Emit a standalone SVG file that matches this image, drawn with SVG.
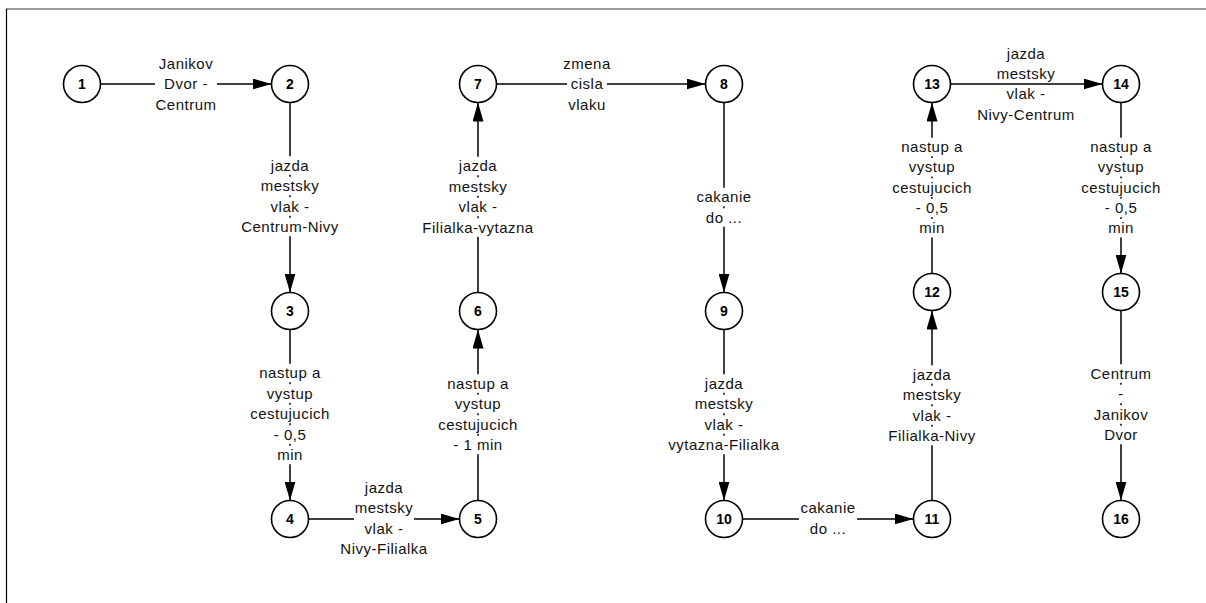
<svg xmlns="http://www.w3.org/2000/svg" width="1206" height="603" viewBox="0 0 1206 603">
<style>
.frame-top{stroke:#777;stroke-width:1.5;fill:none}
.frame-left{stroke:#000;stroke-width:1.2;fill:none}
.node circle{fill:#fff;stroke:#000;stroke-width:1.6}
.node text{font-family:"Liberation Sans",Arial,sans-serif;font-size:14px;font-weight:bold;text-anchor:middle;fill:#000}
.edge{stroke:#000;stroke-width:1.5;fill:none;marker-end:url(#arrow)}
.lbl text{font-family:"Liberation Sans",Arial,sans-serif;font-size:15px;letter-spacing:0.5px;text-anchor:middle;fill:#111}
.lbl rect{fill:#fff;stroke:none}
</style>
<defs>
<marker id="arrow" markerUnits="userSpaceOnUse" markerWidth="19" markerHeight="11" refX="19" refY="5.5" orient="auto">
<path d="M0,0 L19,5.5 L0,11 z" fill="#000"/>
</marker>
</defs>
<rect x="0" y="0" width="1206" height="603" fill="#fff"/>
<line class="frame-top" x1="6" y1="9" x2="1206" y2="9"/>
<line class="frame-left" x1="6.5" y1="9" x2="6.5" y2="603"/>

<g id="connectors">
<line class="edge" x1="100.5" y1="84" x2="271.5" y2="84"/>
<line class="edge" x1="290" y1="102.5" x2="290" y2="292.5"/>
<line class="edge" x1="290" y1="329.5" x2="290" y2="500.5"/>
<line class="edge" x1="308.5" y1="519" x2="459.5" y2="519"/>
<line class="edge" x1="478" y1="500.5" x2="478" y2="329.5"/>
<line class="edge" x1="478" y1="292.5" x2="478" y2="102.5"/>
<line class="edge" x1="496.5" y1="84" x2="705.5" y2="84"/>
<line class="edge" x1="724" y1="102.5" x2="724" y2="292.5"/>
<line class="edge" x1="724" y1="329.5" x2="724" y2="500.5"/>
<line class="edge" x1="742.5" y1="519" x2="913.5" y2="519"/>
<line class="edge" x1="932" y1="500.5" x2="932" y2="310.5"/>
<line class="edge" x1="932" y1="273.5" x2="932" y2="102.5"/>
<line class="edge" x1="950.5" y1="84" x2="1102.5" y2="84"/>
<line class="edge" x1="1121" y1="102.5" x2="1121" y2="273.5"/>
<line class="edge" x1="1121" y1="310.5" x2="1121" y2="500.5"/>

<g class="lbl" id="label-1-2">
<rect x="155" y="74.75" width="62" height="18.5"/>
<text x="186" y="68.5">Janikov</text>
<text x="186" y="89">Dvor -</text>
<text x="186" y="109.5">Centrum</text>
</g>
<g class="lbl" id="label-2-3">
<rect x="267" y="156.25" width="46" height="18.5"/>
<rect x="257" y="176.75" width="66" height="18.5"/>
<rect x="267" y="197.25" width="46" height="18.5"/>
<rect x="238" y="217.75" width="104" height="18.5"/>
<text x="290" y="170.5">jazda</text>
<text x="290" y="191">mestsky</text>
<text x="290" y="211.5">vlak -</text>
<text x="290" y="232">Centrum-Nivy</text>
</g>
<g class="lbl" id="label-3-4">
<rect x="255" y="363.75" width="70" height="18.5"/>
<rect x="263" y="384.25" width="54" height="18.5"/>
<rect x="247" y="404.75" width="86" height="18.5"/>
<rect x="270" y="425.25" width="40" height="18.5"/>
<rect x="274" y="445.75" width="32" height="18.5"/>
<text x="290" y="378">nastup a</text>
<text x="290" y="398.5">vystup</text>
<text x="290" y="419">cestujucich</text>
<text x="290" y="439.5">- 0,5</text>
<text x="290" y="460">min</text>
</g>
<g class="lbl" id="label-4-5">
<rect x="354" y="498.75" width="60" height="39"/>
<text x="384" y="492.5">jazda</text>
<text x="384" y="513">mestsky</text>
<text x="384" y="533.5">vlak -</text>
<text x="384" y="554">Nivy-Filialka</text>
</g>
<g class="lbl" id="label-5-6">
<rect x="443" y="374.25" width="70" height="18.5"/>
<rect x="451" y="394.75" width="54" height="18.5"/>
<rect x="435" y="415.25" width="86" height="18.5"/>
<rect x="450" y="435.75" width="56" height="18.5"/>
<text x="478" y="388.5">nastup a</text>
<text x="478" y="409">vystup</text>
<text x="478" y="429.5">cestujucich</text>
<text x="478" y="450">- 1 min</text>
</g>
<g class="lbl" id="label-6-7">
<rect x="455" y="156.75" width="46" height="18.5"/>
<rect x="445" y="177.25" width="66" height="18.5"/>
<rect x="455" y="197.75" width="46" height="18.5"/>
<rect x="419" y="218.25" width="118" height="18.5"/>
<text x="478" y="171">jazda</text>
<text x="478" y="191.5">mestsky</text>
<text x="478" y="212">vlak -</text>
<text x="478" y="232.5">Filialka-vytazna</text>
</g>
<g class="lbl" id="label-7-8">
<rect x="567" y="74.75" width="40" height="18.5"/>
<text x="587" y="68.5">zmena</text>
<text x="587" y="89">cisla</text>
<text x="587" y="109.5">vlaku</text>
</g>
<g class="lbl" id="label-8-9">
<rect x="693" y="187.75" width="62" height="18.5"/>
<rect x="703" y="208.25" width="42" height="18.5"/>
<text x="724" y="202">cakanie</text>
<text x="724" y="222.5">do ...</text>
</g>
<g class="lbl" id="label-9-10">
<rect x="701" y="374.25" width="46" height="18.5"/>
<rect x="691" y="394.75" width="66" height="18.5"/>
<rect x="701" y="415.25" width="46" height="18.5"/>
<rect x="665" y="435.75" width="118" height="18.5"/>
<text x="724" y="388.5">jazda</text>
<text x="724" y="409">mestsky</text>
<text x="724" y="429.5">vlak -</text>
<text x="724" y="450">vytazna-Filialka</text>
</g>
<g class="lbl" id="label-10-11">
<rect x="799" y="499" width="58" height="39"/>
<text x="828" y="513">cakanie</text>
<text x="828" y="533.5">do ...</text>
</g>
<g class="lbl" id="label-11-12">
<rect x="909" y="365.25" width="46" height="18.5"/>
<rect x="899" y="385.75" width="66" height="18.5"/>
<rect x="909" y="406.25" width="46" height="18.5"/>
<rect x="885" y="426.75" width="94" height="18.5"/>
<text x="932" y="379.5">jazda</text>
<text x="932" y="400">mestsky</text>
<text x="932" y="420.5">vlak -</text>
<text x="932" y="441">Filialka-Nivy</text>
</g>
<g class="lbl" id="label-12-13">
<rect x="897" y="137.75" width="70" height="18.5"/>
<rect x="905" y="158.05" width="54" height="18.5"/>
<rect x="889" y="178.35" width="86" height="18.5"/>
<rect x="912" y="198.65" width="40" height="18.5"/>
<rect x="916" y="218.95" width="32" height="18.5"/>
<text x="932" y="152">nastup a</text>
<text x="932" y="172.3">vystup</text>
<text x="932" y="192.6">cestujucich</text>
<text x="932" y="212.9">- 0,5</text>
<text x="932" y="233.2">min</text>
</g>
<g class="lbl" id="label-13-14">
<rect x="995" y="64.25" width="62" height="18.5"/>
<rect x="1005" y="85" width="42" height="18"/>
<text x="1026" y="58.5">jazda</text>
<text x="1026" y="78.5">mestsky</text>
<text x="1026" y="99">vlak -</text>
<text x="1026" y="119.5">Nivy-Centrum</text>
</g>
<g class="lbl" id="label-14-15">
<rect x="1086" y="137.75" width="70" height="18.5"/>
<rect x="1094" y="158.05" width="54" height="18.5"/>
<rect x="1078" y="178.35" width="86" height="18.5"/>
<rect x="1101" y="198.65" width="40" height="18.5"/>
<rect x="1105" y="218.95" width="32" height="18.5"/>
<text x="1121" y="152">nastup a</text>
<text x="1121" y="172.3">vystup</text>
<text x="1121" y="192.6">cestujucich</text>
<text x="1121" y="212.9">- 0,5</text>
<text x="1121" y="233.2">min</text>
</g>
<g class="lbl" id="label-15-16">
<rect x="1087" y="364.25" width="68" height="18.5"/>
<rect x="1113" y="384.75" width="16" height="18.5"/>
<rect x="1090" y="405.25" width="62" height="18.5"/>
<rect x="1099" y="425.75" width="44" height="18.5"/>
<text x="1121" y="378.5">Centrum</text>
<text x="1121" y="399">-</text>
<text x="1121" y="419.5">Janikov</text>
<text x="1121" y="440">Dvor</text>
</g>
</g>

<g id="node-1" class="node"><circle cx="82" cy="84" r="18.5"/><text x="82" y="89">1</text></g>
<g id="node-2" class="node"><circle cx="290" cy="84" r="18.5"/><text x="290" y="89">2</text></g>
<g id="node-3" class="node"><circle cx="290" cy="311" r="18.5"/><text x="290" y="316">3</text></g>
<g id="node-4" class="node"><circle cx="290" cy="519" r="18.5"/><text x="290" y="524">4</text></g>
<g id="node-5" class="node"><circle cx="478" cy="519" r="18.5"/><text x="478" y="524">5</text></g>
<g id="node-6" class="node"><circle cx="478" cy="311" r="18.5"/><text x="478" y="316">6</text></g>
<g id="node-7" class="node"><circle cx="478" cy="84" r="18.5"/><text x="478" y="89">7</text></g>
<g id="node-8" class="node"><circle cx="724" cy="84" r="18.5"/><text x="724" y="89">8</text></g>
<g id="node-9" class="node"><circle cx="724" cy="311" r="18.5"/><text x="724" y="316">9</text></g>
<g id="node-10" class="node"><circle cx="724" cy="519" r="18.5"/><text x="724" y="524">10</text></g>
<g id="node-11" class="node"><circle cx="932" cy="519" r="18.5"/><text x="932" y="524">11</text></g>
<g id="node-12" class="node"><circle cx="932" cy="292" r="18.5"/><text x="932" y="297">12</text></g>
<g id="node-13" class="node"><circle cx="932" cy="84" r="18.5"/><text x="932" y="89">13</text></g>
<g id="node-14" class="node"><circle cx="1121" cy="84" r="18.5"/><text x="1121" y="89">14</text></g>
<g id="node-15" class="node"><circle cx="1121" cy="292" r="18.5"/><text x="1121" y="297">15</text></g>
<g id="node-16" class="node"><circle cx="1121" cy="519" r="18.5"/><text x="1121" y="524">16</text></g>
</svg>
